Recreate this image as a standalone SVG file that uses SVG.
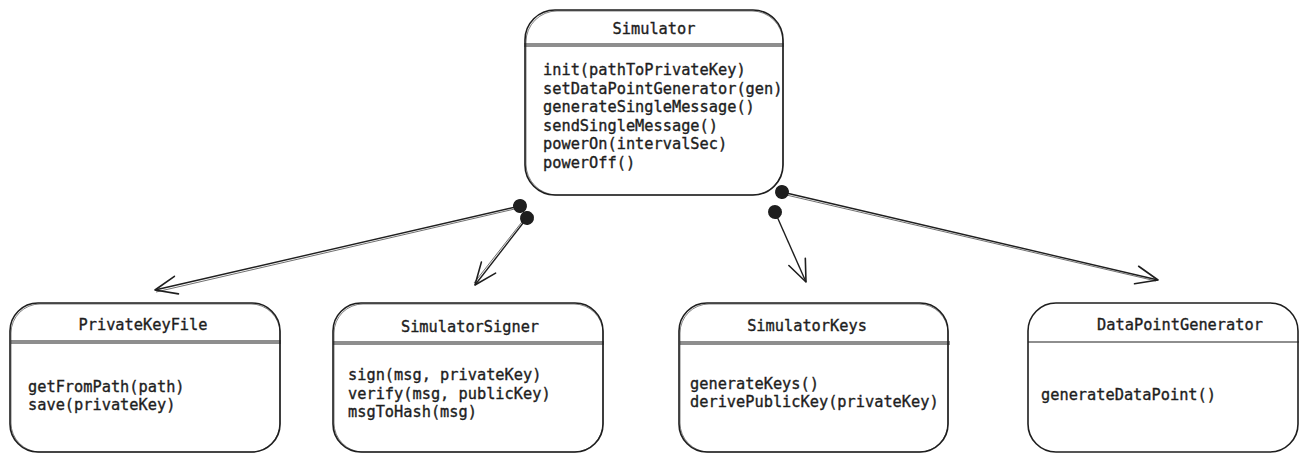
<svg xmlns="http://www.w3.org/2000/svg" width="1308" height="463" viewBox="0 0 1308 463">
<style>
.box{fill:#ffffff;stroke:#1e1e1e;stroke-width:1.6}
.box2{fill:none;stroke:#1e1e1e;stroke-width:0.8;opacity:0.7}
.hdr{stroke:#1e1e1e;stroke-width:1.1}
.t{font-family:"DejaVu Sans Mono","Liberation Mono",monospace;font-size:15.3px;fill:#1e1e1e;stroke:#1e1e1e;stroke-width:0.35}
.title{text-anchor:middle}
.conn{fill:none;stroke:#1e1e1e;stroke-width:1.4}
.conn2{fill:none;stroke:#1e1e1e;stroke-width:0.8;opacity:0.8}
</style>
<defs>
<marker id="arrow" markerUnits="userSpaceOnUse" markerWidth="30" markerHeight="30" viewBox="-26 -13 30 26" refX="0" refY="0" orient="auto">
<path d="M -22 -9 L 0 0 L -22 9" fill="none" stroke="#1e1e1e" stroke-width="1.6" stroke-linecap="round" stroke-linejoin="round"/>
</marker>
<marker id="dot" markerUnits="userSpaceOnUse" markerWidth="18" markerHeight="18" viewBox="-9 -9 18 18" refX="0" refY="0" orient="auto">
<circle cx="0" cy="0" r="7" fill="#1e1e1e"/>
</marker>
</defs>
<g id="connectors">
<line class="conn" x1="520" y1="206" x2="155" y2="290" marker-start="url(#dot)" marker-end="url(#arrow)"/>
<line class="conn2" x1="519" y1="208" x2="156" y2="292"/>
<line class="conn" x1="527" y1="218" x2="475" y2="285" marker-start="url(#dot)" marker-end="url(#arrow)"/>
<line class="conn2" x1="525" y1="218" x2="474" y2="283"/>
<line class="conn" x1="782" y1="192" x2="1158" y2="280" marker-start="url(#dot)" marker-end="url(#arrow)"/>
<line class="conn2" x1="782" y1="194" x2="1156" y2="281"/>
<line class="conn" x1="775" y1="212" x2="806" y2="282" marker-start="url(#dot)" marker-end="url(#arrow)"/>
</g>
<g id="simulator">
<rect class="box" x="525" y="10" width="258" height="185" rx="30"/>
<rect class="box2" x="526" y="11" width="257" height="184" rx="31"/>
<line class="hdr" x1="524" y1="44" x2="784" y2="44"/>
<line class="hdr" x1="524" y1="46" x2="784" y2="46"/>
<text class="t title" x="654" y="34">Simulator</text>
<text class="t" x="543" y="75">init(pathToPrivateKey)</text>
<text class="t" x="543" y="93.5">setDataPointGenerator(gen)</text>
<text class="t" x="543" y="112">generateSingleMessage()</text>
<text class="t" x="543" y="130.5">sendSingleMessage()</text>
<text class="t" x="543" y="149">powerOn(intervalSec)</text>
<text class="t" x="543" y="167.5">powerOff()</text>
</g>
<g id="privatekeyfile">
<rect class="box" x="10" y="303" width="270" height="149" rx="28"/>
<rect class="box2" x="11" y="304" width="269" height="148" rx="29"/>
<line class="hdr" x1="11" y1="341" x2="281" y2="341"/>
<line class="hdr" x1="11" y1="343" x2="281" y2="343"/>
<text class="t title" x="143" y="330">PrivateKeyFile</text>
<text class="t" x="28" y="391.5">getFromPath(path)</text>
<text class="t" x="28" y="410">save(privateKey)</text>
</g>
<g id="simulatorsigner">
<rect class="box" x="333" y="303" width="270" height="149" rx="28"/>
<rect class="box2" x="334" y="304" width="269" height="148" rx="29"/>
<line class="hdr" x1="333" y1="342" x2="604" y2="342"/>
<line class="hdr" x1="333" y1="344" x2="604" y2="344"/>
<text class="t title" x="470" y="332">SimulatorSigner</text>
<text class="t" x="348" y="380">sign(msg, privateKey)</text>
<text class="t" x="348" y="398.5">verify(msg, publicKey)</text>
<text class="t" x="348" y="417">msgToHash(msg)</text>
</g>
<g id="simulatorkeys">
<rect class="box" x="679" y="303" width="269" height="149" rx="28"/>
<rect class="box2" x="680" y="304" width="268" height="148" rx="29"/>
<line class="hdr" x1="680" y1="342" x2="950" y2="342"/>
<line class="hdr" x1="680" y1="344" x2="950" y2="344"/>
<text class="t title" x="807" y="331">SimulatorKeys</text>
<text class="t" x="690" y="388.5">generateKeys()</text>
<text class="t" x="690" y="407">derivePublicKey(privateKey)</text>
</g>
<g id="datapointgenerator">
<rect class="box" x="1028" y="303" width="270" height="149" rx="28"/>
<line class="hdr" x1="1028" y1="342" x2="1299" y2="342"/>
<text class="t title" x="1180" y="330">DataPointGenerator</text>
<text class="t" x="1041" y="400">generateDataPoint()</text>
</g>
</svg>
